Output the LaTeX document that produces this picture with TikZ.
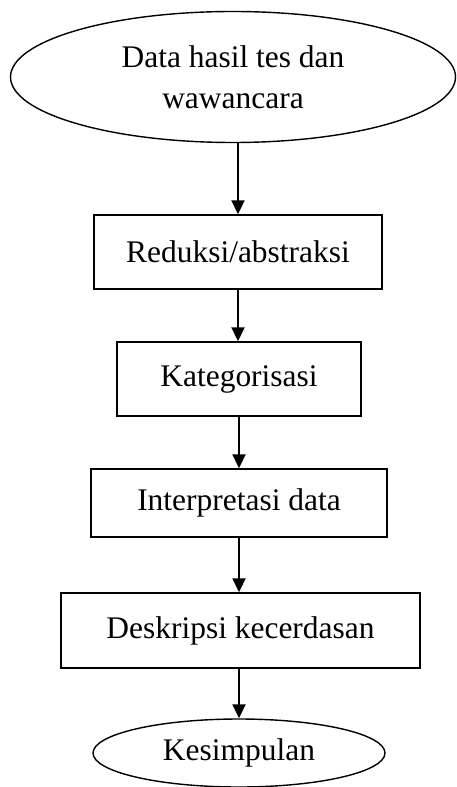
\documentclass[tikz,border=0pt]{standalone}
\usepackage{fontspec}
\setmainfont{Liberation Serif}
\usetikzlibrary{arrows.meta,shapes.geometric}
\tikzset{
  langkah/.style={draw,line width=0.8pt,rectangle,inner sep=0pt,align=center},
  ujung/.style={draw,line width=0.8pt,ellipse,inner sep=0pt,align=center},
  panah/.style={line width=1.1pt,-{Triangle[width=0.26cm,length=0.28cm]}}
}
\begin{document}
\begin{tikzpicture}[font=\fontsize{17.9}{23.3}\selectfont]
\useasboundingbox (0,0) rectangle (9.12,-15.74);
\node[ujung,minimum width=8.9cm,minimum height=2.62cm] (data) at (4.66,-1.54) {Data hasil tes dan\\wawancara};
\node[langkah,minimum width=5.76cm,minimum height=1.48cm] (reduksi) at (4.76,-5.04) {Reduksi/abstraksi};
\node[langkah,minimum width=4.88cm,minimum height=1.48cm] (kategori) at (4.78,-7.58) {Kategorisasi};
\node[langkah,minimum width=5.92cm,minimum height=1.36cm] (interpretasi) at (4.78,-10.06) {Interpretasi data};
\node[langkah,minimum width=7.18cm,minimum height=1.5cm] (deskripsi) at (4.81,-12.61) {Deskripsi kecerdasan};
\node[ujung,minimum width=5.84cm,minimum height=1.36cm] (simpul) at (4.78,-15.06) {Kesimpulan};

\draw[panah] (data.south -| reduksi.north) -- (reduksi.north);
\draw[panah] (reduksi.south) -- (reduksi.south |- kategori.north);
\draw[panah] (kategori.south) -- (interpretasi.north);
\draw[panah] (interpretasi.south) -- (interpretasi.south |- deskripsi.north);
\draw[panah] (deskripsi.south -| simpul.north) -- (simpul.north);
\end{tikzpicture}
\end{document}
